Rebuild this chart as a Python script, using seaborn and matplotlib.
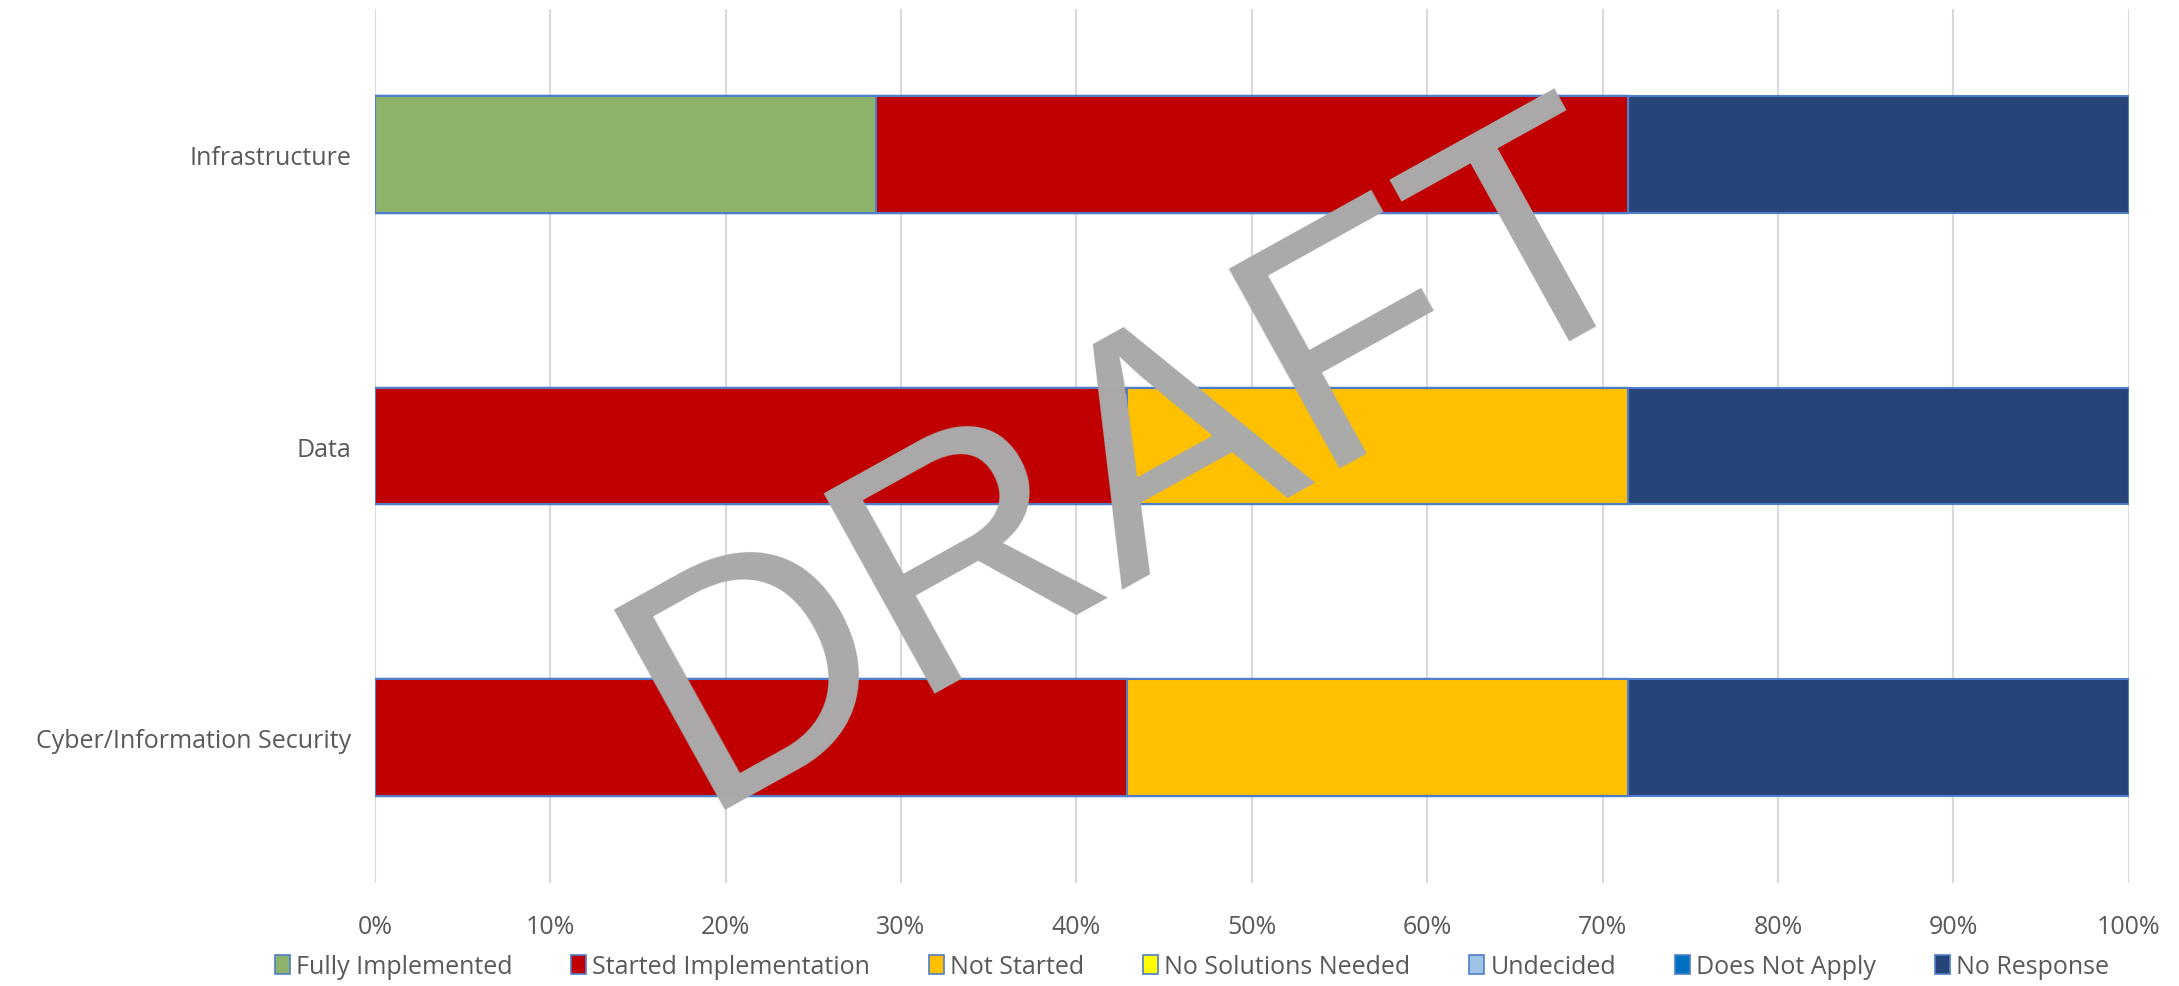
import numpy as np
import pandas as pd
import matplotlib
matplotlib.use("Agg")
import matplotlib.pyplot as plt
from matplotlib.patches import Patch
from matplotlib.ticker import PercentFormatter
import seaborn as sns

categories = ["Infrastructure", "Data", "Cyber/Information Security"]
statuses = ["Fully Implemented", "Started Implementation", "Not Started",
            "No Solutions Needed", "Undecided", "Does Not Apply", "No Response"]
colors = ["#8DB26A", "#C00000", "#FFC000", "#FFFF00", "#9DC3E6", "#0070C0", "#264478"]

fully = [2 / 7, 0, 0]
started = [3 / 7, 3 / 7, 3 / 7]
not_started = [0, 2 / 7, 2 / 7]
no_solutions = [0, 0, 0]
undecided = [0, 0, 0]
not_apply = [0, 0, 0]
no_response = [2 / 7, 2 / 7, 2 / 7]

series = [fully, started, not_started, no_solutions, undecided, not_apply, no_response]

sns.set_style("white")
plt.rcParams['font.family'] = ['Open Sans', 'DejaVu Sans']

fig = plt.figure(figsize=(21.79, 9.87), dpi=100)
ax = fig.add_axes([0.172, 0.104, 0.805, 0.886])

cum = np.cumsum(np.array(series), axis=0)
# draw the cumulative totals from the right, so each segment shows
for i in range(len(statuses) - 1, -1, -1):
    d = pd.DataFrame({"cat": categories, "val": cum[i]})
    sns.barplot(data=d, x="val", y="cat", orient="h", color=colors[i],
                saturation=1, width=0.4, edgecolor="#4F7EC8", linewidth=1.5, ax=ax)

ax.set_xlim(0, 1)
ax.set_ylim(2.5, -0.5)
ax.set_xticks(np.arange(0, 1.01, 0.1))
ax.xaxis.set_major_formatter(PercentFormatter(1, decimals=0))
ax.grid(axis="x", color="#D9D9D9", linewidth=1.5)
ax.set_axisbelow(True)
for s in ax.spines.values():
    s.set_visible(False)
ax.set_xlabel("")
ax.set_ylabel("")
ax.tick_params(axis="both", length=0, labelsize=18, colors="#595959", pad=17)
ax.tick_params(axis="x", pad=22)

handles = [Patch(facecolor=c, edgecolor="#4F7EC8", linewidth=1.2) for c in colors]
fig.legend(handles, statuses, loc="center", bbox_to_anchor=(0.547, 0.02), ncol=7,
           frameon=False, fontsize=18, labelcolor="#595959", handlelength=0.6,
           handleheight=0.8, handletextpad=0.25, columnspacing=2.35)

fig.text(0.524, 0.528, "DRAFT", fontsize=240, color="#AAAAAA", rotation=29,
         ha="center", va="center", family="Liberation Sans")

fig.savefig("out.png", dpi=100)
